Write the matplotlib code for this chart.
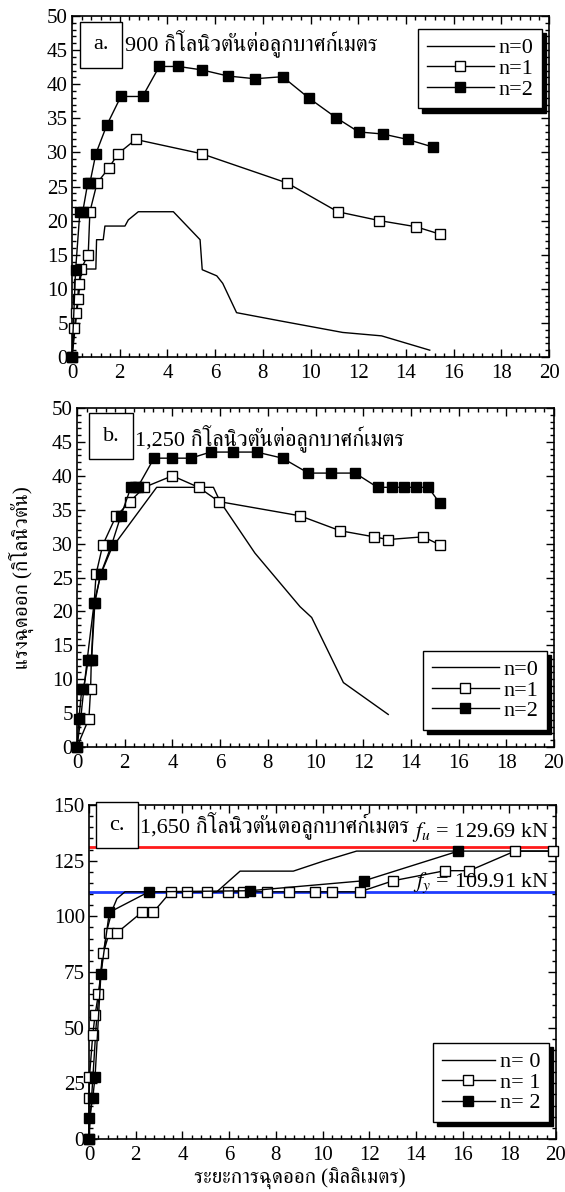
import numpy as np
import matplotlib.pyplot as plt
from matplotlib import font_manager as fm
from matplotlib.ft2font import FT2Font
from matplotlib.ticker import MultipleLocator


def find_thai_font():
    # first installed family that has Thai glyphs, serif preferred
    fallback = None
    for f in fm.fontManager.ttflist:
        try:
            cmap = FT2Font(f.fname).get_charmap()
        except Exception:
            continue
        if 0x0E01 in cmap:
            if 'serif' in f.name.lower() and 'sans' not in f.name.lower():
                return f.name
            fallback = fallback or f.name
    return fallback


thai = find_thai_font()
families = ['Liberation Serif'] + ([thai] if thai else []) + ['DejaVu Sans']
plt.rcParams['font.family'] = families
plt.rcParams['mathtext.fontset'] = 'stix'

# ---------------------------------------------------------------- data
# a. 900 kN/m3
a_x0 = [0, 0.4, 1.0, 1.03, 1.31, 1.38, 2.22, 2.36, 2.78, 4.25, 5.37, 5.46, 6.07, 6.32, 6.9, 8.72, 11.35, 12.98, 15.0]
a_y0 = [0, 12.9, 12.9, 17.2, 17.2, 19.2, 19.2, 20.1, 21.3, 21.3, 17.2, 12.8, 11.9, 10.8, 6.5, 5.3, 3.6, 3.1, 1.0]
a_x1 = [0, 0.1, 0.17, 0.24, 0.28, 0.38, 0.68, 0.75, 1.05, 1.54, 1.93, 2.67, 5.44, 9.03, 11.14, 12.89, 14.42, 15.44]
a_y1 = [0, 4.3, 6.4, 8.5, 10.7, 12.9, 15.0, 21.3, 25.5, 27.7, 29.8, 31.9, 29.8, 25.5, 21.3, 20.0, 19.1, 18.0]
a_x2 = [0, 0.15, 0.33, 0.45, 0.66, 0.75, 1.0, 1.46, 2.05, 2.96, 3.66, 4.46, 5.44, 6.54, 7.67, 8.83, 9.92, 11.07,
        12.02, 13.03, 14.07, 15.12]
a_y2 = [0, 12.7, 21.3, 21.3, 25.5, 25.5, 29.8, 34.0, 38.2, 38.2, 42.6, 42.6, 42.1, 41.2, 40.8, 41.1, 38.0, 35.1,
        33.0, 32.7, 31.9, 30.8]

# b. 1,250 kN/m3
b_x0 = [0, 0.15, 0.3, 0.5, 0.72, 1.0, 1.45, 3.34, 5.72, 6.0, 7.46, 9.35, 9.84, 11.17, 13.05]
b_y0 = [0, 4, 9, 15, 21.3, 25.5, 29.3, 38.3, 38.3, 36.2, 28.6, 20.7, 19.1, 9.5, 4.8]
b_x1 = [0, 0.5, 0.57, 0.6, 0.72, 0.8, 1.08, 1.63, 2.22, 2.82, 4.0, 5.1, 5.95, 9.35, 11.03, 12.45, 13.05, 14.52, 15.22]
b_y1 = [0, 4.2, 8.5, 12.8, 21.3, 25.5, 29.8, 34.0, 36.2, 38.3, 40.0, 38.3, 36.2, 34.1, 31.9, 31.0, 30.6, 31.0, 29.8]
b_x2 = [0, 0.08, 0.2, 0.27, 0.47, 0.61, 0.75, 0.99, 1.45, 1.83, 2.26, 2.43, 2.54, 3.23, 4.0, 4.77, 5.6, 6.55,
        7.53, 8.62, 9.7, 10.64, 11.66, 12.6, 13.2, 13.7, 14.2, 14.73, 15.2]
b_y2 = [0, 4.2, 8.5, 8.5, 12.8, 12.8, 21.3, 25.5, 29.8, 34.0, 38.3, 38.3, 38.3, 42.6, 42.6, 42.6, 43.5, 43.5,
        43.5, 42.6, 40.4, 40.4, 40.4, 38.3, 38.3, 38.3, 38.3, 38.3, 36.0]

# c. 1,650 kN/m3
c_x0 = [0, 0.15, 0.3, 0.55, 0.8, 1.0, 1.2, 1.54, 5.47, 6.47, 8.75, 10.04, 11.46, 20]
c_y0 = [0, 25, 50, 80, 95, 103, 108, 111, 111, 120.3, 120.3, 124.8, 129.3, 129.3]
c_x1 = [0, 0.0, 0.02, 0.16, 0.26, 0.4, 0.61, 0.87, 1.21, 2.26, 2.75, 3.5, 4.18, 5.07, 5.94, 6.61, 7.61, 8.55,
        9.68, 10.39, 11.6, 13.03, 15.25, 16.29, 18.24, 19.86]
c_y1 = [0, 18.3, 28, 46.7, 55.7, 65, 83.4, 92.7, 92.7, 101.8, 101.8, 111, 111, 111, 111, 111, 111, 111,
        111, 111, 111, 116, 120.5, 120.5, 129.3, 129.3]
c_x2 = [0, 0.01, 0.16, 0.26, 0.51, 0.87, 2.56, 6.89, 11.79, 15.82]
c_y2 = [0, 9.3, 18.3, 28, 74, 101.8, 111, 111.5, 116, 129.3]
fu_level, fy_level = 131, 111
fu_text, fy_text = '129.69', '109.91'

tag_a, txt_a = 'a.', '900 กิโลนิวตันต่อลูกบาศก์เมตร'
tag_b, txt_b = 'b.', '1,250 กิโลนิวตันต่อลูกบาศก์เมตร'
tag_c, txt_c = 'c.', '1,650 กิโลนิวตันตอลูกบาศก์เมตร'
ylab = 'แรงฉุดออก (กิโลนิวตัน)'
xlab = 'ระยะการฉุดออก (มิลลิเมตร)'

# ---------------------------------------------------------------- figure
fig = plt.figure(figsize=(5.65, 11.92), dpi=100)
W, H = 565, 1192


def px_axes(l, t, r, b):
    return fig.add_axes([l / W, 1 - b / H, (r - l) / W, (b - t) / H])


ax1 = px_axes(72, 16, 549, 357)
ax2 = px_axes(77, 408, 554, 747)
ax3 = px_axes(89, 805, 556, 1139)

fs = 15
lw = 1.0
ms = 6.5


def style(ax, ymax, ymaj, ymin):
    ax.set_xlim(0, 20)
    ax.set_ylim(0, ymax)
    ax.xaxis.set_major_locator(MultipleLocator(2))
    ax.xaxis.set_minor_locator(MultipleLocator(0.4))
    ax.yaxis.set_major_locator(MultipleLocator(ymaj))
    ax.yaxis.set_minor_locator(MultipleLocator(ymin))
    ax.tick_params(which='both', direction='in', top=True, right=True, labelsize=fs, width=1.0)
    ax.tick_params(which='major', length=6, pad=3)
    ax.tick_params(axis='x', which='major', pad=5)
    ax.tick_params(which='minor', length=3)
    for s in ax.spines.values():
        s.set_linewidth(1.2)


def series(ax, x0, y0, x1, y1, x2, y2, labels):
    ax.plot(x0, y0, '-', color='k', lw=lw, label=labels[0], clip_on=False, zorder=3)
    ax.plot(x1, y1, '-s', color='k', lw=lw, ms=ms, mfc='white', mec='k', mew=1.0,
            label=labels[1], clip_on=False, zorder=4)
    ax.plot(x2, y2, '-s', color='k', lw=lw, ms=ms, mfc='k', mec='k',
            label=labels[2], clip_on=False, zorder=5)


def shadow_legend(ax, loc, anchor, hl):
    leg = ax.legend(loc=loc, bbox_to_anchor=anchor, prop={'size': 16}, frameon=True, fancybox=False,
                    shadow={'color': 'k', 'alpha': 1.0, 'ox': 3, 'oy': -3}, handlelength=hl,
                    handletextpad=0.2, borderpad=0.4, labelspacing=0.0, borderaxespad=0)
    leg.get_frame().set_edgecolor('k')
    leg.get_frame().set_linewidth(1.0)
    return leg


def panel_title(ax, tag, txt, xbox, ybox, xtxt, ytxt):
    ax.text(xbox, ybox, tag, transform=ax.transAxes, fontsize=16, va='center', ha='center',
            bbox=dict(boxstyle='square,pad=0.6', fc='white', ec='k', lw=1.0))
    ax.text(xtxt, ytxt, txt, transform=ax.transAxes, fontsize=16, va='center', ha='left')


# a
style(ax1, 50, 5, 1)
series(ax1, a_x0, a_y0, a_x1, a_y1, a_x2, a_y2, ['n=0', 'n=1', 'n=2'])
shadow_legend(ax1, 'upper right', (0.985, 0.962), 3.0)
panel_title(ax1, tag_a, txt_a, 0.06, 0.915, 0.111, 0.92)

# b
style(ax2, 50, 5, 1)
series(ax2, b_x0, b_y0, b_x1, b_y1, b_x2, b_y2, ['n=0', 'n=1', 'n=2'])
shadow_legend(ax2, 'lower right', (0.985, 0.05), 3.0)
panel_title(ax2, tag_b, txt_b, 0.071, 0.917, 0.122, 0.912)
ax2.set_ylabel(ylab, fontsize=fs, labelpad=13)

# c
style(ax3, 150, 25, 5)
ax3.axhline(fu_level, color='#ff1a1a', lw=2.0, zorder=2)
ax3.axhline(fy_level, color='#1f3cff', lw=2.0, zorder=2)
series(ax3, c_x0, c_y0, c_x1, c_y1, c_x2, c_y2, ['n= 0', 'n= 1', 'n= 2'])
shadow_legend(ax3, 'lower right', (0.985, 0.05), 2.4)
panel_title(ax3, tag_c, txt_c, 0.06, 0.94, 0.109, 0.94)
ax3.text(0.985, 0.919, r'$f_u$ = ' + fu_text + ' kN', transform=ax3.transAxes, fontsize=16,
         ha='right', va='center', zorder=6)
ax3.text(0.985, 0.766, r'$f_y$ = ' + fy_text + ' kN', transform=ax3.transAxes, fontsize=16,
         ha='right', va='center', zorder=6)
ax3.set_xlabel(xlab, fontsize=fs)
ax3.xaxis.set_label_coords((300 - 89) / 467, -0.088)

fig.savefig('out.png', dpi=100)
